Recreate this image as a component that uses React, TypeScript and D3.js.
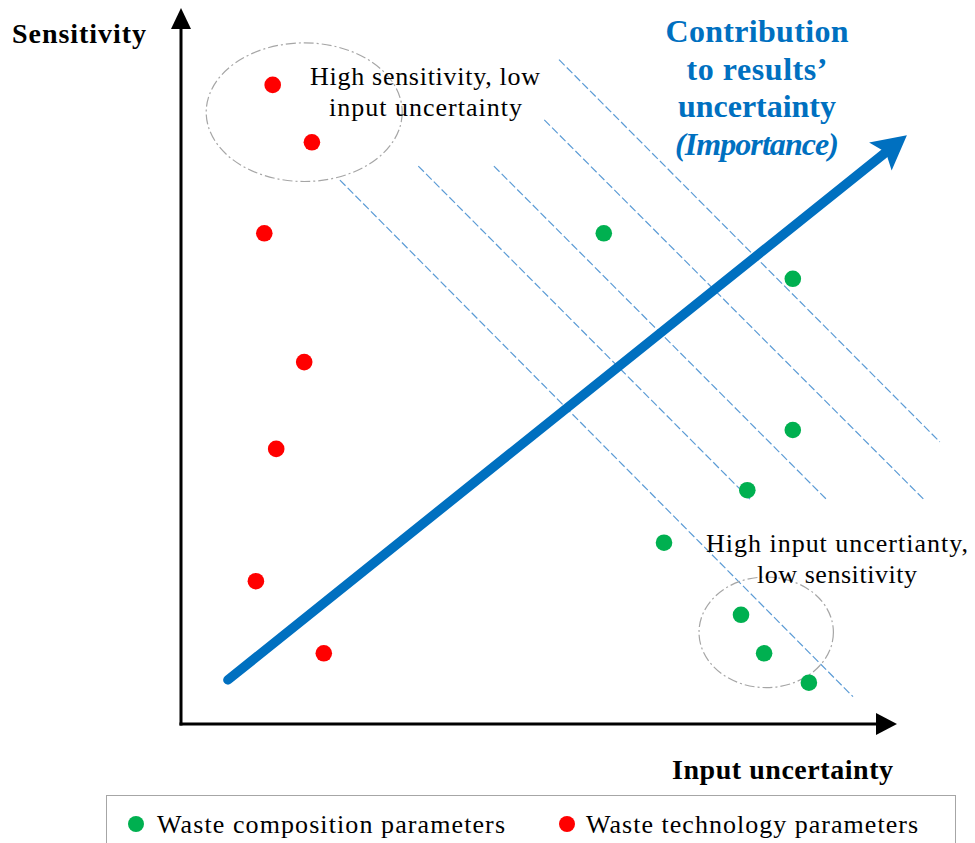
import React from "react";
import * as d3 from "d3";

// values, in a 0..100 "input uncertainty" x "sensitivity" space
const technologyX = [13.1, 18.7, 11.9, 17.6, 13.6, 10.7, 20.4];
const technologyY = [91.3, 83.1, 70.1, 51.7, 39.3, 20.4, 10.1];

const compositionX = [60.4, 87.4, 87.4, 80.9, 69.0, 80.0, 83.3, 89.7];
const compositionY = [70.1, 63.6, 42.0, 33.4, 25.9, 15.6, 10.1, 5.9];

// iso-importance dashed lines: [x1, y1, x2, y2]
const isoLines: number[][] = [
  [22.7, 77.7, 96.0, 3.9],
  [33.9, 79.7, 81.4, 32.0],
  [44.7, 79.7, 92.3, 32.0],
  [51.9, 86.3, 106.3, 31.9],
  [54.0, 94.9, 108.4, 40.3],
];

// importance arrow: start, tip
const importanceArrow = [6.7, 6.3, 103.7, 84.1];

// groups circled: cx, cy, rx, ry
const groups: number[][] = [
  [17.6, 87.4, 14.0, 9.9],
  [83.6, 13.1, 9.6, 7.9],
];

const titleLines = ["Contribution", "to results\u2019", "uncertainty", "(Importance)"];
const legendLabels = ["Waste composition parameters", "Waste technology parameters"];

const BLUE = "#0070c0";
const GREEN = "#00b050";
const RED = "#ff0000";
const SERIF = "'Liberation Serif', 'Times New Roman', serif";

export default function App() {
  const width = 975;
  const height = 843;

  const x = d3.scaleLinear().domain([0, 100]).range([181, 881]);
  const y = d3.scaleLinear().domain([0, 100]).range([724, 24]);

  const [ax1, ay1, ax2, ay2] = importanceArrow;
  const sx = x(ax1), sy = y(ay1), tx = x(ax2), ty = y(ay2);
  const len = Math.hypot(tx - sx, ty - sy);
  const ux = (tx - sx) / len, uy = (ty - sy) / len;
  const nx = -uy, ny = ux;
  const headLen = 34, headHalf = 18, notch = 27;
  const bx = tx - headLen * ux, by = ty - headLen * uy;
  const head = [
    [tx, ty],
    [bx + headHalf * nx, by + headHalf * ny],
    [tx - notch * ux, ty - notch * uy],
    [bx - headHalf * nx, by - headHalf * ny],
  ];

  const yAxisX = x(0);
  const xAxisY = y(0);

  return (
    <svg width={width} height={height} style={{ position: "absolute", left: 0, top: 0, background: "#fff" }}>
      <rect width={width} height={height} fill="#fff" />

      {/* dashed iso-importance lines */}
      {isoLines.map((l, i) => (
        <line key={i} x1={x(l[0])} y1={y(l[1])} x2={x(l[2])} y2={y(l[3])}
          stroke="#5b9bd5" strokeWidth={1.2} strokeDasharray="8 3" />
      ))}

      {/* circled groups */}
      {groups.map((g, i) => (
        <ellipse key={i} cx={x(g[0])} cy={y(g[1])} rx={x(g[0] + g[2]) - x(g[0])} ry={y(g[1]) - y(g[1] + g[3])}
          fill="none" stroke="#a6a6a6" strokeWidth={1.2} strokeDasharray="10 3 2 3" />
      ))}

      {/* importance arrow */}
      <line x1={sx} y1={sy} x2={tx - notch * ux} y2={ty - notch * uy}
        stroke={BLUE} strokeWidth={9.5} strokeLinecap="round" />
      <polygon points={head.map((p) => p.join(",")).join(" ")} fill={BLUE} />

      {/* axes */}
      <line x1={yAxisX} y1={xAxisY + 1.5} x2={yAxisX} y2={26} stroke="#000" strokeWidth={3} />
      <polygon points={`${yAxisX},8 ${yAxisX - 10},29 ${yAxisX + 10},29`} fill="#000" />
      <line x1={yAxisX - 1.5} y1={xAxisY} x2={878} y2={xAxisY} stroke="#000" strokeWidth={3} />
      <polygon points={`897,${xAxisY} 876,${xAxisY - 11} 876,${xAxisY + 11}`} fill="#000" />

      {/* points */}
      {compositionX.map((v, i) => (
        <circle key={"g" + i} cx={x(v)} cy={y(compositionY[i])} r={8.3} fill={GREEN} />
      ))}
      {technologyX.map((v, i) => (
        <circle key={"r" + i} cx={x(v)} cy={y(technologyY[i])} r={8.3} fill={RED} />
      ))}

      {/* axis titles */}
      <text x={12} y={43} fontFamily={SERIF} fontWeight="bold" fontSize={28} textLength={134} lengthAdjust="spacing">Sensitivity</text>
      <text x={672} y={779} fontFamily={SERIF} fontWeight="bold" fontSize={28} textLength={221} lengthAdjust="spacing">Input uncertainty</text>

      {/* importance title */}
      {titleLines.map((t, i) => (
        <text key={i} x={757} y={[42, 80, 117, 155][i]} textAnchor="middle" fill={BLUE}
          fontFamily={SERIF} fontWeight="bold" fontStyle={i === 3 ? "italic" : "normal"} fontSize={32}
          textLength={[183, 141, 158, 164][i]} lengthAdjust="spacing">{t}</text>
      ))}

      {/* annotations */}
      <g fontFamily={SERIF} fontSize={26} textAnchor="middle" fill="#000">
        <text x={425} y={85} textLength={230} lengthAdjust="spacing">High sensitivity, low</text>
        <text x={425.5} y={116} textLength={193} lengthAdjust="spacing">input uncertainty</text>
        <text x={837} y={552} textLength={262} lengthAdjust="spacing">High input uncertianty,</text>
        <text x={837} y={583} textLength={160} lengthAdjust="spacing">low sensitivity</text>
      </g>

      {/* legend */}
      <rect x={106.5} y={795.5} width={849} height={60} fill="none" stroke="#a6a6a6" strokeWidth={1} />
      <circle cx={136} cy={824} r={8} fill={GREEN} />
      <text x={157} y={833} fontFamily={SERIF} fontSize={26} textLength={348} lengthAdjust="spacing">{legendLabels[0]}</text>
      <circle cx={567} cy={824} r={8} fill={RED} />
      <text x={586} y={833} fontFamily={SERIF} fontSize={26} textLength={332} lengthAdjust="spacing">{legendLabels[1]}</text>
    </svg>
  );
}
